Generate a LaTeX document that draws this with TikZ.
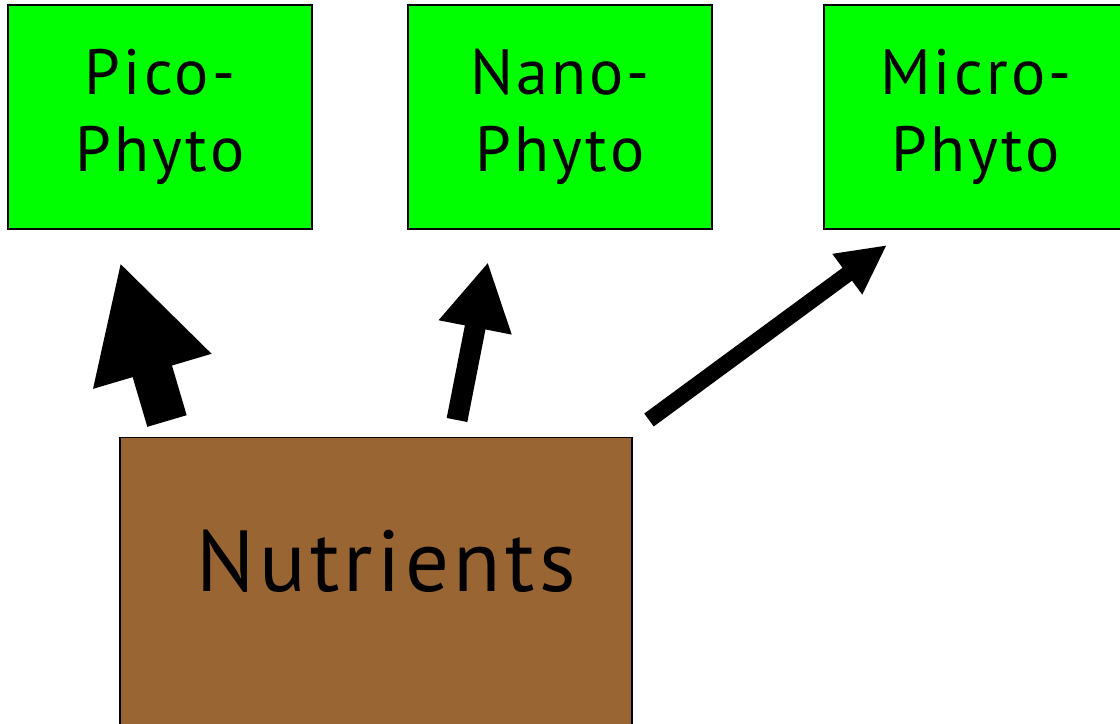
\documentclass[tikz,border=0pt]{standalone}
\usepackage{fontspec}
\setmainfont[LetterSpace=5]{PT Sans}
\usetikzlibrary{arrows.meta}
\definecolor{phyto}{RGB}{0,255,0}
\definecolor{soil}{RGB}{153,102,51}
\begin{document}
\begin{tikzpicture}[x=0.75pt,y=-0.75pt,
  phytobox/.style={draw,line width=1pt,fill=phyto,minimum width=228pt,minimum height=168pt,align=center,font=\fontsize{48}{57.75}\selectfont},
  nutbox/.style={draw,line width=1pt,fill=soil,minimum width=384pt,minimum height=242pt}]
\clip(0,0)rectangle(1120,724);
\node[phytobox](pico) at (160,117){Pico-\\Phyto};
\node[phytobox](nano) at (560,117){Nano-\\Phyto};
\node[phytobox](micro) at (976,117){Micro-\\Phyto};
\node[nutbox,label={[xshift=7.5pt,yshift=28pt,font=\fontsize{65}{78}\selectfont]center:Nutrients}](nut) at (376,598.5){};
% uptake arrows, widest to the smallest cells
\coordinate(a1) at (167,421);
\coordinate(b1) at (120,262);
\coordinate(a2) at (457,420);
\coordinate(b2) at (488,262);
\coordinate(a3) at (649,420);
\coordinate(b3) at (887,245);
\draw[line width=30.75pt,-{Triangle[length=85.5pt,width=86pt]}](a1)--(b1);
\draw[line width=15.75pt,-{Triangle[length=50pt,width=52pt]}](a2)--(b2);
\draw[line width=12pt,-{Triangle[length=37pt,width=35pt]}](a3)--(b3);
\end{tikzpicture}
\end{document}
